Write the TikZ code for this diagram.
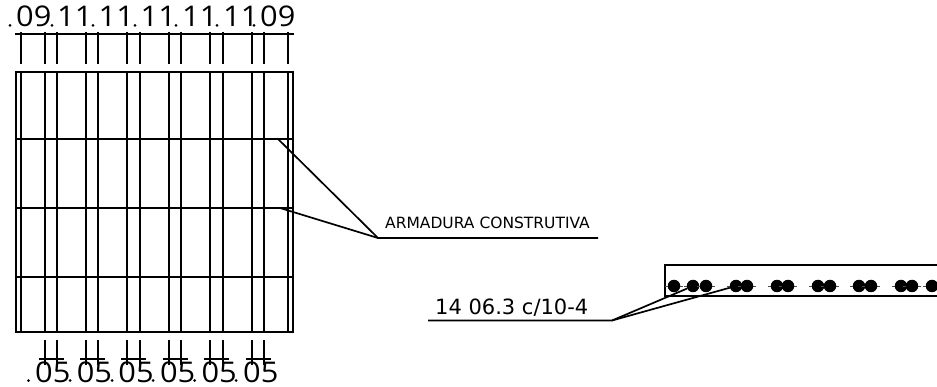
\documentclass[tikz,border=0pt]{standalone}
\usepackage{fontspec}
\setmainfont{Liberation Sans}
\newfontfamily\labelfont{DejaVu Sans}
\newfontfamily\dimfont[FakeStretch=1.08]{Open Sans}
\tikzset{
  ln/.style={line width=1.7pt,black},
  dimtext/.style={inner sep=0pt,anchor=base west,font=\dimfont\fontsize{28.5}{29}\selectfont},
  dimdot/.style={circle,fill=black,inner sep=0pt,minimum size=3pt},
  bar/.style={circle,fill=black,inner sep=0pt,minimum size=12.5pt},
}
\begin{document}
\begin{tikzpicture}[x=1pt,y=-1pt]
\useasboundingbox (0,0) rectangle (937,387);
% slab
\draw[ln] (16,72) rectangle (293,332);
\foreach \x in {20.7,44.7,57,86,98.3,127.3,140,169,181.3,210.3,222.7,252,264.3,288}
  \draw[ln] (\x,72) -- (\x,332);
\foreach \y in {139,208,277}
  \draw[ln] (16,\y) -- (293,\y);
% top dimensions
\draw[ln] (15,34) -- (294,34);
\foreach \x in {20.7,44.7,57,86,98.3,127.3,140,169,181.3,210.3,222.7,252,264.3,288}
  \draw[ln] (\x,32) -- (\x,64);
\foreach \n/\x/\t in {a/16/09,b/57/11,c/98.5/11,d/140.5/11,e/182/11,f/223/11,g/260/09}
  \node[dimtext] (top\n) at (\x,27) {\t};
\foreach \n/\x in {a/10,b/52,c/93,d/135,e/176,f/217,g/254}
  \node[dimdot] (topdot\n) at (\x,25.5) {};
% bottom dimensions
\foreach \x in {44.7,57,86,98.3,127.3,140,169,181.3,210.3,222.7,252,264.3}
  \draw[ln] (\x,340) -- (\x,365);
\foreach \x in {39,80,121,163,204,246}
  \draw[ln] (\x,359) -- ++(25,0);
\foreach \n/\x/\d in {a/35/28.5,b/76.6/70,c/118.2/112,d/159.8/153,e/201.4/194.5,f/243/236}{
  \node[dimtext] (bot\n) at (\x,382.5) {05};
  \node[dimdot] (botdot\n) at (\d,380.5) {};
}
% note 1
\coordinate (m1) at (278,139);
\coordinate (m2) at (280,208);
\coordinate (k1) at (378,238);
\coordinate (k1e) at (598,238);
\draw[ln] (m1) -- (k1) -- (k1e);
\draw[ln] (m2) -- (k1);
\node[inner sep=0pt,anchor=base west,font=\labelfont\fontsize{15.5}{16}\selectfont] (note1) at (385,229) {ARMADURA CONSTRUTIVA};
% section
\draw[ln] (937,265) -- (665,265) -- (665,296) -- (937,296);
\foreach \n/\x in {a/674,b/693,c/706,d/736,e/747,f/777,g/788,h/818,i/830,j/859,k/871,l/901,m/912,n/932}{
  \draw[line width=.5pt,black!70] (\x-9,286) -- (\x+9,286);
  \node[bar] (bar\n) at (\x,286) {};
}
% note 2
\coordinate (k2) at (612,320.5);
\coordinate (k2e) at (428,320.5);
\draw[ln] (barb) -- (k2) -- (k2e);
\draw[ln] (bard) -- (k2);
\node[inner sep=0pt,anchor=base west,font=\labelfont\fontsize{21}{22}\selectfont] (note2) at (435,315) {14 06.3 c/10-4};
\end{tikzpicture}
\end{document}
